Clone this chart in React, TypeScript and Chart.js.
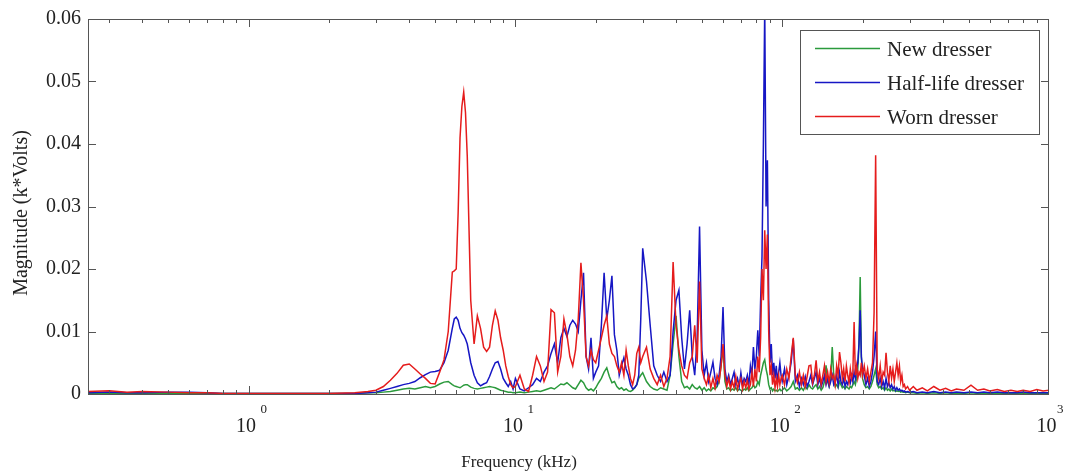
import { useEffect, useRef } from 'react';
import { Chart, registerables } from 'chart.js';

Chart.register(...registerables);

// Frequency grid (kHz)
const frequencyKHz = [
  0.25, 0.3, 0.35, 0.4, 0.5, 0.6, 0.7, 0.8, 1.0, 1.2, 1.5, 2.0, 2.5, 2.8,
  3.0, 3.2, 3.4, 3.6, 3.8, 4.0, 4.2, 4.4, 4.6, 4.8, 5.0, 5.2, 5.4, 5.6, 5.8, 5.9,
  6.0, 6.1, 6.2, 6.3, 6.4, 6.5, 6.6, 6.8, 7.0, 7.2, 7.4, 7.6, 7.8, 8.0, 8.2, 8.4, 8.6, 8.8,
  9.0, 9.2, 9.4, 9.6, 9.8,
  10.0, 10.4, 10.8, 11.2, 11.6, 12.0, 12.4, 12.8, 13.2, 13.6, 14.0, 14.4, 14.8, 15.2, 15.6,
  16.0, 16.4, 16.8, 17.2, 17.6, 18.0, 18.4, 18.8, 19.2, 19.6, 20.0, 20.5, 21.0, 21.5, 22.0,
  22.5, 23.0, 23.5, 24.0, 24.5, 25.0, 25.5, 26.0, 26.5, 27.0, 27.5, 28.0, 28.5, 29.0, 29.5,
  30, 31, 32, 33, 34, 35, 36, 37, 38, 39, 40, 41, 42, 43, 44, 45, 46, 47, 48, 49,
  50, 51, 52, 53, 54, 55, 56, 57, 58, 59, 60,
  61, 62, 63, 64, 65, 66, 67, 68, 69, 70, 71, 72, 73, 74, 75, 76, 77, 78, 79, 80,
  81, 82, 83, 84, 85, 86, 87, 88, 89, 90, 91, 92, 93, 94, 95, 96, 97, 98, 99,
  100, 102, 104, 106, 108, 110, 112, 114, 116, 118, 120, 122, 124, 126, 128,
  130, 132, 134, 136, 138, 140, 142, 144, 146, 148, 150, 152, 154, 156, 158,
  160, 162, 164, 166, 168, 170, 172, 174, 176, 178, 180, 182, 184, 186, 188,
  190, 192, 194, 196, 198, 200,
  203, 206, 209, 212, 215, 218, 221, 224, 227, 230, 233, 236, 239, 242, 245,
  248, 251, 254, 257, 260, 263, 266, 269, 272, 275, 278, 281, 284, 287, 290, 295, 300,
  310, 320, 335, 350, 370, 390, 410, 430, 450, 480, 510, 540, 570, 600, 640,
  680, 720, 760, 800, 850, 900, 950, 1000,
];

// Magnitude (k*Volts), New dresser
const newDresser = [
  0.0001, 0.0001, 0.0001, 0.0001, 0.0001, 0.0001, 0.0001, 0.0001, 0.0001, 0.0001, 0.0001, 0.0001, 0.0001, 0.0002,
  0.0002, 0.0003, 0.0004, 0.0006, 0.0008, 0.0009, 0.0008, 0.0010, 0.0012, 0.0010,
  0.0012, 0.0016, 0.0019, 0.0020, 0.0015, 0.0013, 0.0012, 0.0011, 0.0010, 0.0012,
  0.0014, 0.0015, 0.0015, 0.0011, 0.0009, 0.0008, 0.0009, 0.0010, 0.0011, 0.0012,
  0.0011, 0.0010, 0.0008, 0.0006, 0.0005, 0.0004, 0.0003, 0.0003, 0.0002,
  0.0002, 0.0003, 0.0002, 0.0003, 0.0004, 0.0005, 0.0004, 0.0006, 0.0008, 0.0010,
  0.0008, 0.0012, 0.0016, 0.0015, 0.0018, 0.0014, 0.0010, 0.0008, 0.0015, 0.0022,
  0.0018, 0.0010, 0.0006, 0.0008, 0.0005, 0.0010, 0.0018, 0.0025, 0.0035, 0.0042,
  0.0028, 0.0018, 0.0020, 0.0012, 0.0008, 0.0010, 0.0006, 0.0008, 0.0005, 0.0004,
  0.0006, 0.0010, 0.0015, 0.0025, 0.0030,
  0.0034, 0.0020, 0.0012, 0.0008, 0.0006, 0.0010, 0.0008, 0.0006, 0.0030, 0.0080,
  0.0125, 0.0060, 0.0020, 0.0010, 0.0012, 0.0008, 0.0015, 0.0010, 0.0008, 0.0012,
  0.0006, 0.0010, 0.0005, 0.0008, 0.0005, 0.0010, 0.0008, 0.0012, 0.0020, 0.0045, 0.0075,
  0.0020, 0.0008, 0.0010, 0.0005, 0.0008, 0.0006, 0.0010, 0.0005, 0.0008, 0.0006,
  0.0005, 0.0008, 0.0006, 0.0010, 0.0005, 0.0008, 0.0010, 0.0015, 0.0010, 0.0012,
  0.0020, 0.0015, 0.0030, 0.0040, 0.0050, 0.0055, 0.0040, 0.0030, 0.0015, 0.0008,
  0.0010, 0.0005, 0.0008, 0.0005, 0.0006, 0.0004, 0.0006, 0.0008, 0.0005,
  0.0006, 0.0010, 0.0005, 0.0008, 0.0012, 0.0020, 0.0008, 0.0010, 0.0006, 0.0010,
  0.0006, 0.0012, 0.0008, 0.0015, 0.0010, 0.0008, 0.0012, 0.0015, 0.0008, 0.0012,
  0.0006, 0.0010, 0.0020, 0.0046, 0.0020, 0.0012, 0.0025, 0.0075, 0.0030, 0.0012,
  0.0015, 0.0010, 0.0020, 0.0015, 0.0010, 0.0012, 0.0008, 0.0012, 0.0010, 0.0008,
  0.0012, 0.0010, 0.0015, 0.0020, 0.0015, 0.0025, 0.0040, 0.0080, 0.0187, 0.0060, 0.0025,
  0.0015, 0.0010, 0.0012, 0.0008, 0.0012, 0.0020, 0.0030, 0.0040, 0.0015, 0.0010,
  0.0012, 0.0008, 0.0010, 0.0006, 0.0010, 0.0006, 0.0008, 0.0005, 0.0008, 0.0005,
  0.0006, 0.0004, 0.0005, 0.0004, 0.0005, 0.0003, 0.0004, 0.0003, 0.0003, 0.0002, 0.0003, 0.0002,
  0.0002, 0.0001, 0.0002, 0.0001, 0.0002, 0.0001, 0.0002, 0.0001, 0.0001, 0.0001,
  0.0002, 0.0001, 0.0001, 0.0001, 0.0001, 0.0001, 0.0001, 0.0001, 0.0001, 0.0001,
  0.0001, 0.0001, 0.0001,
];

// Magnitude (k*Volts), Half-life dresser
const halfLifeDresser = [
  0.0002, 0.0003, 0.0002, 0.0002, 0.0003, 0.0003, 0.0002, 0.0001, 0.0001, 0.0001, 0.0001, 0.0001, 0.0001, 0.0002,
  0.0003, 0.0006, 0.0009, 0.0012, 0.0015, 0.0017, 0.0020, 0.0026, 0.0031, 0.0035,
  0.0036, 0.0038, 0.0050, 0.0070, 0.0105, 0.0120, 0.0123, 0.0118, 0.0105, 0.0098,
  0.0094, 0.0088, 0.0080, 0.0050, 0.0030, 0.0018, 0.0013, 0.0016, 0.0018, 0.0028,
  0.0040, 0.0050, 0.0052, 0.0040, 0.0025, 0.0018, 0.0012, 0.0020, 0.0008,
  0.0025, 0.0008, 0.0005, 0.0010, 0.0015, 0.0025, 0.0020, 0.0035, 0.0045, 0.0065,
  0.0080, 0.0050, 0.0090, 0.0105, 0.0092, 0.0110, 0.0118, 0.0112, 0.0100, 0.0150,
  0.0194, 0.0060, 0.0040, 0.0090, 0.0025, 0.0035, 0.0045, 0.0110, 0.0194, 0.0120,
  0.0150, 0.0189, 0.0095, 0.0070, 0.0030, 0.0045, 0.0058, 0.0040, 0.0030, 0.0015,
  0.0008, 0.0010, 0.0015, 0.0030, 0.0120,
  0.0233, 0.0180, 0.0110, 0.0045, 0.0030, 0.0020, 0.0035, 0.0020, 0.0030, 0.0100,
  0.0150, 0.0166, 0.0090, 0.0040, 0.0080, 0.0134, 0.0060, 0.0030, 0.0090, 0.0268,
  0.0070, 0.0030, 0.0050, 0.0020, 0.0035, 0.0051, 0.0025, 0.0015, 0.0030, 0.0060, 0.0139,
  0.0040, 0.0020, 0.0030, 0.0015, 0.0025, 0.0035, 0.0015, 0.0025, 0.0012, 0.0034,
  0.0015, 0.0025, 0.0020, 0.0030, 0.0015, 0.0045, 0.0030, 0.0075, 0.0040, 0.0060,
  0.0102, 0.0060, 0.0150, 0.0220, 0.0400, 0.0620, 0.0300, 0.0374, 0.0150, 0.0050,
  0.0080, 0.0030, 0.0050, 0.0025, 0.0045, 0.0020, 0.0035, 0.0050, 0.0030,
  0.0020, 0.0040, 0.0015, 0.0030, 0.0050, 0.0088, 0.0020, 0.0030, 0.0012, 0.0025,
  0.0015, 0.0028, 0.0012, 0.0020, 0.0030, 0.0015, 0.0025, 0.0035, 0.0015, 0.0025,
  0.0012, 0.0020, 0.0030, 0.0015, 0.0025, 0.0012, 0.0020, 0.0030, 0.0015, 0.0020,
  0.0030, 0.0015, 0.0035, 0.0020, 0.0015, 0.0025, 0.0012, 0.0020, 0.0015, 0.0025,
  0.0018, 0.0030, 0.0020, 0.0035, 0.0025, 0.0040, 0.0050, 0.0080, 0.0134, 0.0060, 0.0040,
  0.0030, 0.0015, 0.0025, 0.0012, 0.0020, 0.0035, 0.0060, 0.0100, 0.0020, 0.0015,
  0.0025, 0.0012, 0.0020, 0.0010, 0.0025, 0.0012, 0.0018, 0.0010, 0.0015, 0.0008,
  0.0012, 0.0006, 0.0010, 0.0006, 0.0008, 0.0005, 0.0006, 0.0004, 0.0005, 0.0003, 0.0004, 0.0003,
  0.0004, 0.0002, 0.0003, 0.0002, 0.0004, 0.0002, 0.0003, 0.0002, 0.0003, 0.0002,
  0.0003, 0.0002, 0.0003, 0.0002, 0.0003, 0.0002, 0.0002, 0.0002, 0.0003, 0.0002,
  0.0002, 0.0002, 0.0002,
];

// Magnitude (k*Volts), Worn dresser
const wornDresser = [
  0.0004, 0.0005, 0.0003, 0.0004, 0.0003, 0.0002, 0.0002, 0.0001, 0.0001, 0.0001, 0.0001, 0.0001, 0.0002, 0.0004,
  0.0006, 0.0012, 0.0022, 0.0033, 0.0046, 0.0048, 0.0040, 0.0032, 0.0025, 0.0017,
  0.0016, 0.0035, 0.0055, 0.0100, 0.0195, 0.0197, 0.0200, 0.0290, 0.0410, 0.0460,
  0.0483, 0.0450, 0.0380, 0.0150, 0.0080, 0.0125, 0.0105, 0.0075, 0.0068, 0.0075,
  0.0110, 0.0133, 0.0118, 0.0090, 0.0070, 0.0045, 0.0028, 0.0015, 0.0010,
  0.0012, 0.0030, 0.0008, 0.0004, 0.0030, 0.0060, 0.0045, 0.0020, 0.0035, 0.0135,
  0.0130, 0.0035, 0.0060, 0.0120, 0.0095, 0.0060, 0.0045, 0.0070, 0.0120, 0.0210,
  0.0150, 0.0060, 0.0045, 0.0070, 0.0055, 0.0050, 0.0070, 0.0090, 0.0110, 0.0125,
  0.0080, 0.0065, 0.0060, 0.0045, 0.0035, 0.0050, 0.0030, 0.0070, 0.0045, 0.0025,
  0.0015, 0.0030, 0.0065, 0.0075, 0.0050,
  0.0060, 0.0075, 0.0040, 0.0025, 0.0015, 0.0030, 0.0012, 0.0025, 0.0060, 0.0211,
  0.0110, 0.0070, 0.0045, 0.0030, 0.0025, 0.0050, 0.0060, 0.0110, 0.0050, 0.0180,
  0.0040, 0.0025, 0.0015, 0.0030, 0.0010, 0.0025, 0.0010, 0.0030, 0.0020, 0.0045, 0.0080,
  0.0030, 0.0012, 0.0025, 0.0008, 0.0020, 0.0010, 0.0028, 0.0008, 0.0018, 0.0025,
  0.0008, 0.0020, 0.0010, 0.0022, 0.0008, 0.0015, 0.0035, 0.0012, 0.0040, 0.0020,
  0.0060, 0.0035, 0.0090, 0.0200, 0.0150, 0.0262, 0.0200, 0.0255, 0.0100, 0.0030,
  0.0045, 0.0015, 0.0030, 0.0010, 0.0025, 0.0012, 0.0030, 0.0015, 0.0025,
  0.0030, 0.0015, 0.0040, 0.0025, 0.0060, 0.0090, 0.0030, 0.0018, 0.0035, 0.0015,
  0.0030, 0.0012, 0.0028, 0.0045, 0.0046, 0.0018, 0.0030, 0.0054, 0.0020, 0.0035,
  0.0015, 0.0030, 0.0045, 0.0020, 0.0035, 0.0018, 0.0040, 0.0025, 0.0030, 0.0015,
  0.0045, 0.0030, 0.0067, 0.0050, 0.0025, 0.0040, 0.0020, 0.0045, 0.0030, 0.0018,
  0.0040, 0.0025, 0.0035, 0.0115, 0.0030, 0.0045, 0.0025, 0.0035, 0.0030, 0.0050, 0.0030,
  0.0045, 0.0025, 0.0040, 0.0020, 0.0035, 0.0050, 0.0130, 0.0382, 0.0040, 0.0025,
  0.0045, 0.0020, 0.0035, 0.0030, 0.0066, 0.0035, 0.0020, 0.0045, 0.0025, 0.0040,
  0.0020, 0.0035, 0.0050, 0.0030, 0.0045, 0.0020, 0.0030, 0.0012, 0.0015, 0.0008, 0.0012, 0.0006,
  0.0012, 0.0006, 0.0010, 0.0005, 0.0012, 0.0006, 0.0009, 0.0005, 0.0008, 0.0006,
  0.0014, 0.0006, 0.0008, 0.0005, 0.0007, 0.0004, 0.0006, 0.0004, 0.0006, 0.0004,
  0.0007, 0.0005, 0.0006,
];

const seriesLabels = ['New dresser', 'Half-life dresser', 'Worn dresser'];
const seriesColors = ['#2b9a3c', '#1616c4', '#e51c1c'];

const yTickValues = [0, 0.01, 0.02, 0.03, 0.04, 0.05, 0.06];
const yTickLabels = ['0', '0.01', '0.02', '0.03', '0.04', '0.05', '0.06'];

const xTickValues = [
  0.3, 0.4, 0.5, 0.6, 0.7, 0.8, 0.9,
  1, 2, 3, 4, 5, 6, 7, 8, 9,
  10, 20, 30, 40, 50, 60, 70, 80, 90,
  100, 200, 300, 400, 500, 600, 700, 800, 900, 1000,
];
const xMajorTicks = [1, 10, 100, 1000];
const xMajorExponents = ['0', '1', '2', '3'];

const FONT = '"Liberation Serif", "Times New Roman", serif';
const TEXT = '#222';
const AXIS = '#555';

const framePlugin = {
  id: 'matlabFrame',
  afterDatasetsDraw(chart: any) {
    const { ctx, chartArea: a, scales } = chart;
    const xs = scales.x;
    const ys = scales.y;
    ctx.save();
    ctx.strokeStyle = AXIS;
    ctx.lineWidth = 1;
    ctx.strokeRect(a.left + 0.5, a.top + 0.5, a.right - a.left - 1, a.bottom - a.top);
    ctx.beginPath();
    for (const t of ys.ticks) {
      const py = Math.round(ys.getPixelForValue(t.value)) + 0.5;
      ctx.moveTo(a.left, py);
      ctx.lineTo(a.left + 8, py);
      ctx.moveTo(a.right, py);
      ctx.lineTo(a.right - 8, py);
    }
    for (const t of xs.ticks) {
      const v = t.value;
      if (v <= xs.min || v >= xs.max) continue;
      const major = xMajorTicks.includes(v);
      const len = major ? 8 : 4;
      const px = Math.round(xs.getPixelForValue(v)) + 0.5;
      ctx.moveTo(px, a.bottom);
      ctx.lineTo(px, a.bottom - len);
      ctx.moveTo(px, a.top);
      ctx.lineTo(px, a.top + len);
    }
    ctx.stroke();

    // exponents of the 10^n tick labels
    ctx.fillStyle = TEXT;
    ctx.font = `13px ${FONT}`;
    ctx.textAlign = 'left';
    ctx.textBaseline = 'middle';
    xMajorTicks.forEach((v, i) => {
      const px = xs.getPixelForValue(v);
      ctx.fillText(xMajorExponents[i], Math.min(px + 12, 1057), 410);
    });

    // axis titles
    ctx.font = `17px ${FONT}`;
    ctx.textAlign = 'center';
    ctx.fillText('Frequency (kHz)', 519, 463);
    ctx.save();
    ctx.translate(22, 213);
    ctx.rotate(-Math.PI / 2);
    ctx.font = `20px ${FONT}`;
    ctx.fillText('Magnitude (k*Volts)', 0, 0);
    ctx.restore();

    // legend
    const lx = 800, ly = 30, lw = 239, lh = 104;
    ctx.fillStyle = '#fff';
    ctx.fillRect(lx, ly, lw, lh);
    ctx.strokeStyle = AXIS;
    ctx.strokeRect(lx + 0.5, ly + 0.5, lw, lh);
    const rows = [48, 82, 116];
    chart.data.datasets.forEach((ds: any, i: number) => {
      const ry = rows[i];
      ctx.strokeStyle = ds.borderColor;
      ctx.lineWidth = 1.3;
      ctx.beginPath();
      ctx.moveTo(815, ry + 0.5);
      ctx.lineTo(880, ry + 0.5);
      ctx.stroke();
      ctx.fillStyle = TEXT;
      ctx.font = `21px ${FONT}`;
      ctx.textAlign = 'left';
      ctx.textBaseline = 'middle';
      ctx.fillText(ds.label, 887, ry + 2);
    });
    ctx.restore();
  },
};

export default function App() {
  const ref = useRef<HTMLCanvasElement>(null);
  useEffect(() => {
    if (!ref.current) return;
    const series = [newDresser, halfLifeDresser, wornDresser];
    const chart = new Chart(ref.current, {
      type: 'line',
      data: {
        datasets: series.map((vals, i) => ({
          label: seriesLabels[i],
          data: frequencyKHz.map((f, j) => ({ x: f, y: vals[j] })),
          borderColor: seriesColors[i],
          backgroundColor: seriesColors[i],
          borderWidth: 1.5,
          pointRadius: 0,
          tension: 0,
          fill: false,
          order: 2 - i,
        })),
      },
      options: {
        responsive: false,
        animation: false,
        events: [],
        layout: { padding: { left: 0, right: 16, top: 19, bottom: 0 } },
        plugins: { legend: { display: false }, tooltip: { enabled: false } },
        scales: {
          x: {
            type: 'logarithmic',
            min: 0.25,
            max: 1000,
            grid: { display: false, drawTicks: false },
            border: { display: false },
            afterBuildTicks: (scale: any) => {
              scale.ticks = xTickValues.map((value) => ({ value }));
            },
            afterFit: (scale: any) => {
              scale.height = 80;
              scale.paddingLeft = 0;
              scale.paddingRight = 0;
            },
            ticks: {
              autoSkip: false,
              maxRotation: 0,
              padding: 21,
              color: TEXT,
              font: { family: FONT, size: 20 },
              callback: (value: any) => (xMajorTicks.includes(Number(value)) ? '10 ' : ''),
            },
          },
          y: {
            min: 0,
            max: 0.06,
            grid: { display: false, drawTicks: false },
            border: { display: false },
            afterBuildTicks: (scale: any) => {
              scale.ticks = yTickValues.map((value) => ({ value }));
            },
            afterFit: (scale: any) => {
              scale.width = 88;
              scale.paddingTop = 0;
              scale.paddingBottom = 0;
            },
            ticks: {
              padding: 7,
              color: TEXT,
              font: { family: FONT, size: 20 },
              callback: (_v: any, index: number) => yTickLabels[index],
            },
          },
        },
      },
      plugins: [framePlugin],
    } as any);
    return () => chart.destroy();
  }, []);
  return (
    <div style={{ position: 'absolute', left: 0, top: 0, width: 1065, height: 474, background: '#fff' }}>
      <canvas ref={ref} width={1065} height={474} style={{ display: 'block' }} />
    </div>
  );
}
